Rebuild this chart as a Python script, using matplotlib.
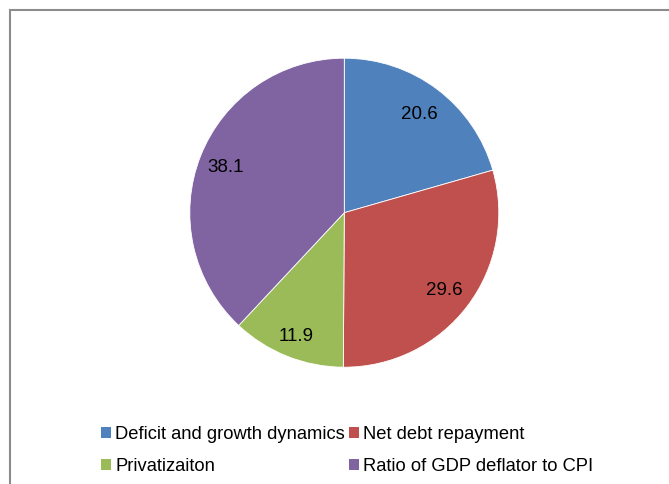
import matplotlib
matplotlib.use("Agg")
import matplotlib.pyplot as plt
from matplotlib.patches import Rectangle, Patch

plt.rcParams['font.family'] = ['Liberation Sans', 'DejaVu Sans']

categories = ["Deficit and growth dynamics", "Net debt repayment", "Privatizaiton", "Ratio of GDP deflator to CPI"]
values = [20.6, 29.6, 11.9, 38.1]
colors = ["#4F81BD", "#C0504D", "#9BBB59", "#8064A2"]
label_dist = [0.81, 0.81, 0.85, 0.825]

W, H = 669, 484
fig = plt.figure(figsize=(W / 100, H / 100), dpi=100)

# figure border
fig.patches.append(Rectangle((9.5 / W, -0.1), 1.2, 1.1 - 10.5 / H, transform=fig.transFigure,
                             fill=False, edgecolor="#8c8c8c", linewidth=1.5, zorder=0))

cx, cy, r = 344.3, 212.7, 154.5
ax = fig.add_axes([(cx - r) / W, (H - cy - r) / H, 2 * r / W, 2 * r / H])
wedges, texts = ax.pie(values, colors=colors, startangle=90, counterclock=False,
                       labels=[f"{v:.1f}" for v in values], labeldistance=1.0,
                       wedgeprops=dict(edgecolor="white", linewidth=0.6),
                       textprops=dict(fontsize=13.5, color="black"))
for t, d in zip(texts, label_dist):
    x, y = t.get_position()
    t.set_position((x * d, y * d))
    t.set_horizontalalignment("center")
    t.set_verticalalignment("center_baseline")
ax.set_xlim(-1, 1)
ax.set_ylim(-1, 1)
ax.set_aspect("equal")
ax.axis("off")

fs = 13.2
order = [0, 2, 1, 3]
handles = [Patch(facecolor=colors[i], edgecolor="none") for i in order]
labels = [categories[i] for i in order]
fig.legend(handles, labels, ncol=2, loc="upper left", bbox_to_anchor=(101 / W, 1 - 426 / H),
           frameon=False, fontsize=fs, handlelength=0.57, handleheight=0.57, handletextpad=0.2,
           columnspacing=0.2, labelspacing=0.82, borderaxespad=0, borderpad=0)

fig.savefig("out.png", dpi=100, facecolor="white")
